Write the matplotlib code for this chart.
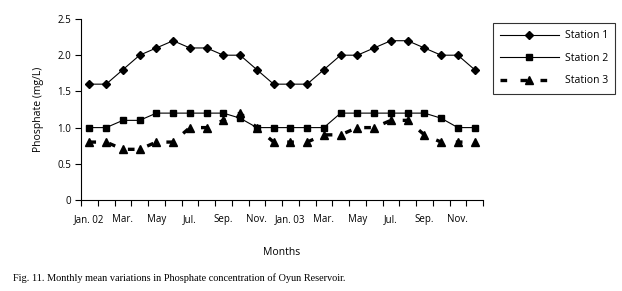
import matplotlib

matplotlib.use("Agg")

import matplotlib.pyplot as plt  # noqa: E402
from matplotlib.ticker import FixedLocator, NullFormatter  # noqa: E402

plt.rcParams.update({"font.family": ["Open Sans", "DejaVu Sans"], "font.size": 7})

months = list(range(24))
tick_labels = ["Jan. 02", "Mar.", "May", "Jul.", "Sep.", "Nov.",
               "Jan. 03", "Mar.", "May", "Jul.", "Sep.", "Nov."]
station1 = [1.6, 1.6, 1.8, 2.0, 2.1, 2.2, 2.1, 2.1, 2.0, 2.0, 1.8, 1.6,
            1.6, 1.6, 1.8, 2.0, 2.0, 2.1, 2.2, 2.2, 2.1, 2.0, 2.0, 1.8]
station2 = [1.0, 1.0, 1.1, 1.1, 1.2, 1.2, 1.2, 1.2, 1.2, 1.13, 1.0, 1.0,
            1.0, 1.0, 1.0, 1.2, 1.2, 1.2, 1.2, 1.2, 1.2, 1.13, 1.0, 1.0]
station3 = [0.8, 0.8, 0.7, 0.7, 0.8, 0.8, 1.0, 1.0, 1.1, 1.2, 1.0, 0.8,
            0.8, 0.8, 0.9, 0.9, 1.0, 1.0, 1.1, 1.1, 0.9, 0.8, 0.8, 0.8]

fig = plt.figure(figsize=(6.22, 2.91), dpi=100)
ax = fig.add_axes([81 / 622, 1 - 200 / 291, 402 / 622, 181 / 291])

ax.plot(months, station1, color="black", lw=0.8, marker="D", ms=4.5, label="Station 1")
ax.plot(months, station2, color="black", lw=0.8, marker="s", ms=5, label="Station 2")
ax.plot(months, station3, color="black", lw=2.4, ls=(0, (2, 4)), marker="^", ms=6,
        label="Station 3")

ax.set_xlim(-0.5, 23.5)
ax.set_ylim(0, 2.5)
ax.set_yticks([0, 0.5, 1.0, 1.5, 2.0, 2.5])
ax.set_yticklabels(["0", "0.5", "1.0", "1.5", "2.0", "2.5"])

# ticks between categories, labels under every other month
ax.xaxis.set_major_locator(FixedLocator([i - 0.5 for i in range(25)]))
ax.xaxis.set_major_formatter(NullFormatter())
ax.xaxis.set_minor_locator(FixedLocator(months[::2]))
ax.set_xticklabels(tick_labels, minor=True)
ax.tick_params(axis="x", which="minor", length=0, pad=10)
ax.tick_params(axis="x", which="major", length=4, width=0.8)
ax.tick_params(axis="y", length=4, width=0.8, pad=3)

for side in ("top", "right"):
    ax.spines[side].set_visible(False)
for side in ("left", "bottom"):
    ax.spines[side].set_linewidth(0.8)

ax.set_xlabel("Months", fontsize=7.5, labelpad=16)
ax.set_ylabel("Phosphate (mg/L)", fontsize=7.5, labelpad=10)

leg = fig.legend(loc="upper left", bbox_to_anchor=(493 / 622, 1 - 23 / 291),
                 borderaxespad=0, frameon=True, fancybox=False, edgecolor="black",
                 fontsize=7.5, handlelength=5.6, handletextpad=0.6,
                 borderpad=0.7, labelspacing=1.1)
leg.get_frame().set_linewidth(0.8)

fig.text(13 / 622, 1 - 278 / 291,
         "Fig. 11. Monthly mean variations in Phosphate concentration of Oyun Reservoir.",
         family=["Liberation Serif", "DejaVu Serif"], fontsize=7.4, va="center")

fig.savefig("out.png", dpi=100)
